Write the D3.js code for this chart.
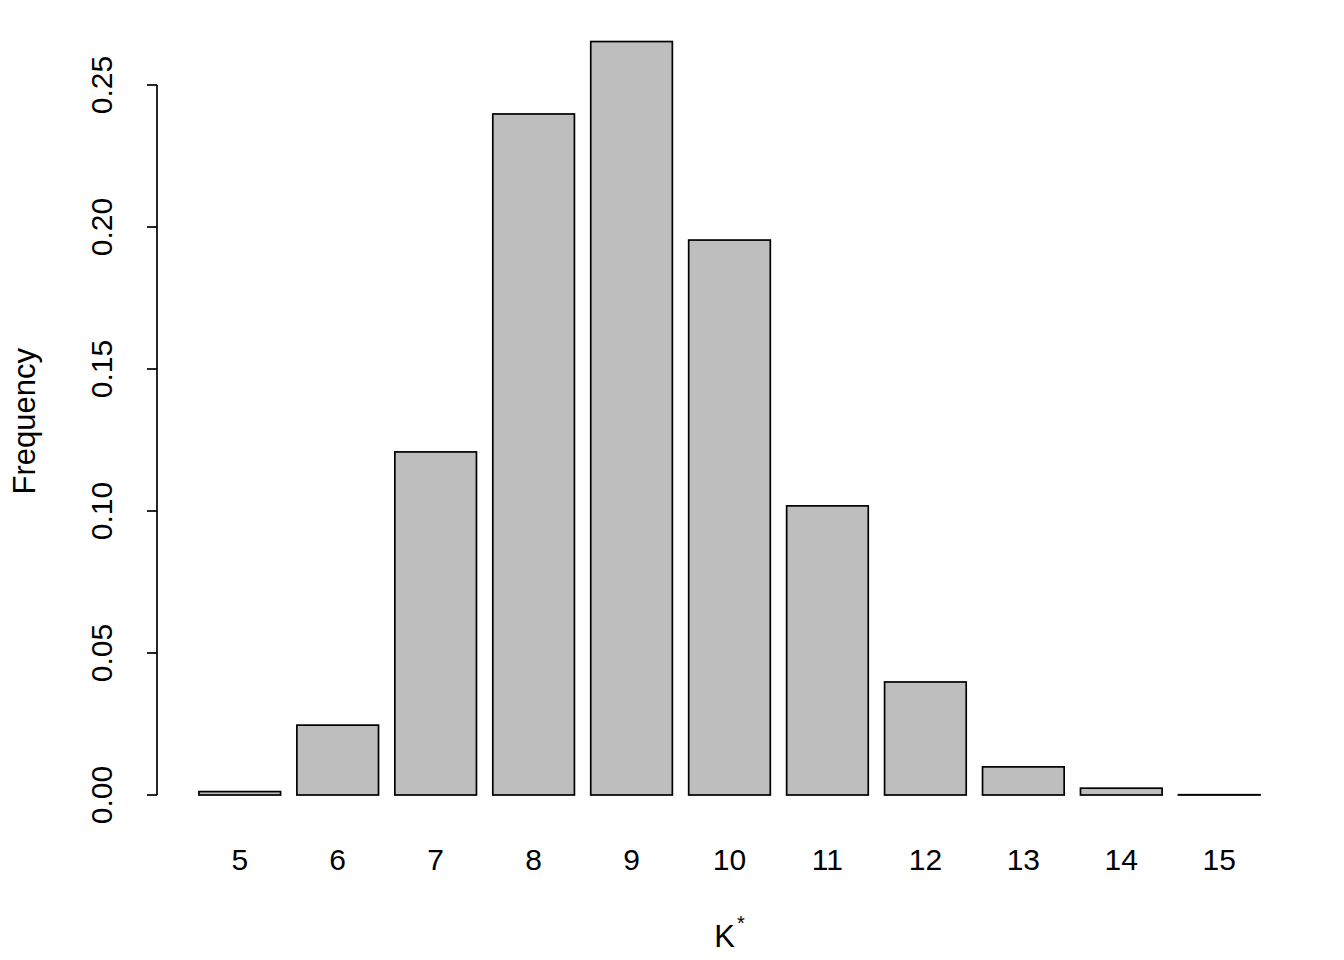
<!DOCTYPE html>
<html>
<head>
<meta charset="utf-8">
<script src="https://cdn.jsdelivr.net/npm/d3@7"></script>
<style>
  html, body { margin: 0; padding: 0; background: #fff; }
  svg { display: block; font-family: "Liberation Sans", Arial, sans-serif; }
</style>
</head>
<body>
<svg id="chart" width="1344" height="960"></svg>
<script>
const categories = ["5","6","7","8","9","10","11","12","13","14","15"];
const frequencies = [0.0012, 0.0246, 0.1208, 0.2398, 0.2653, 0.1954, 0.1018, 0.0398, 0.0099, 0.0024, 0.0001];
const yTicks = [0, 0.05, 0.10, 0.15, 0.20, 0.25];
const yLabel = "Frequency";
const xLabel = "K";
const xLabelSup = "*";

const svg = d3.select("#chart");
const barWidth = 1, space = 0.2;
const n = categories.length;
const xMin = space, xMax = n * (barWidth + space);
const pad = 0.04 * (xMax - xMin);
const x = d3.scaleLinear().domain([xMin - pad, xMax + pad]).range([156.5, 1302.5]);
const y = d3.scaleLinear().domain([0, 0.25]).range([795, 85]);

const left = i => space + i * (barWidth + space);

svg.append("g").selectAll("rect")
  .data(frequencies)
  .join("rect")
  .attr("x", (d, i) => x(left(i)))
  .attr("width", (d, i) => x(left(i) + barWidth) - x(left(i)))
  .attr("y", d => y(d))
  .attr("height", d => y(0) - y(d))
  .attr("fill", "#bebebe")
  .attr("stroke", "#000")
  .attr("stroke-width", 1.7);

// Y axis
const yAxis = svg.append("g").attr("transform", "translate(157,0)");
yAxis.append("line")
  .attr("x1", 0).attr("x2", 0)
  .attr("y1", y(d3.min(yTicks))).attr("y2", y(d3.max(yTicks)))
  .attr("stroke", "#000").attr("stroke-width", 1.7);
yAxis.selectAll("line.tick")
  .data(yTicks).join("line").attr("class", "tick")
  .attr("x1", 0).attr("x2", -10)
  .attr("y1", d => y(d)).attr("y2", d => y(d))
  .attr("stroke", "#000").attr("stroke-width", 1.7);
yAxis.selectAll("text")
  .data(yTicks).join("text")
  .attr("transform", d => `translate(-45,${y(d)}) rotate(-90)`)
  .attr("text-anchor", "middle")
  .attr("font-size", 30)
  .attr("fill", "#000")
  .text(d3.format(".2f"));

// X category labels
svg.append("g").selectAll("text")
  .data(categories).join("text")
  .attr("x", (d, i) => x(left(i) + barWidth / 2))
  .attr("y", 870)
  .attr("text-anchor", "middle")
  .attr("font-size", 30)
  .attr("fill", "#000")
  .text(d => d);

// Axis titles
svg.append("text")
  .attr("transform", `translate(35,${(y(0) + 30 + y(0.2653) - 30) / 2 + 3}) rotate(-90)`)
  .attr("text-anchor", "middle")
  .attr("font-size", 31)
  .attr("fill", "#000")
  .text(yLabel);

const xt = svg.append("text")
  .attr("x", (x.range()[0] + x.range()[1]) / 2)
  .attr("y", 947)
  .attr("text-anchor", "middle")
  .attr("font-size", 31)
  .attr("fill", "#000");
xt.append("tspan").text(xLabel);
xt.append("tspan").attr("font-size", 20).attr("dy", -17).attr("dx", 2).text(xLabelSup);
</script>
</body>
</html>
